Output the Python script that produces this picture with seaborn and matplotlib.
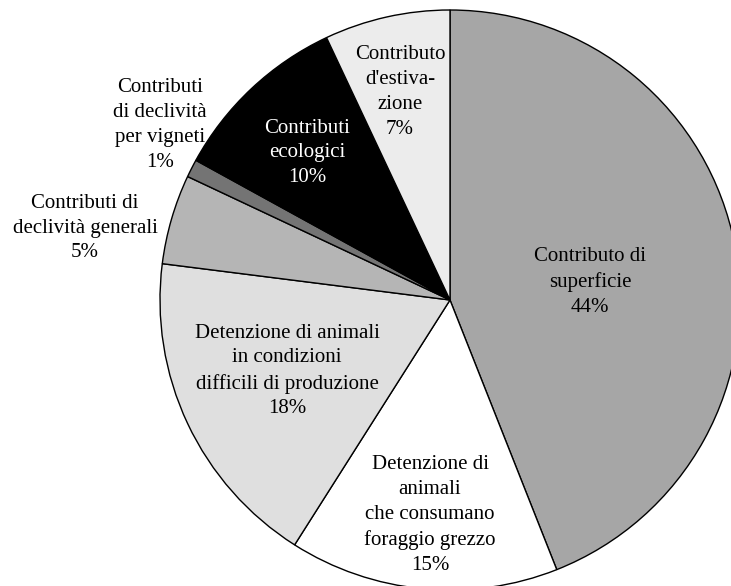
import matplotlib.pyplot as plt
import seaborn as sns

# data (clockwise from 12 o'clock)
categories = [
    "Contributo di\nsuperficie",
    "Detenzione di\nanimali\nche consumano\nforaggio grezzo",
    "Detenzione di animali\nin condizioni\ndifficili di produzione",
    "Contributi di\ndeclività generali",
    "Contributi\ndi declività\nper vigneti",
    "Contributi\necologici",
    "Contributo\nd'estiva-\nzione",
]
shares = [44, 15, 18, 5, 1, 10, 7]
slice_colors = ["#a6a6a6", "#ffffff", "#dfdfdf", "#b5b5b5", "#747474", "#000000", "#ececec"]
text_colors = ["black", "black", "black", "black", "black", "white", "black"]

# label centres in pixels of the reference (x from left, y from top)
label_px = [(590, 282), (430, 515), (287, 371), (85, 228), (160, 125), (307, 153), (400, 92)]


def main():
    sns.set_theme(style="white")
    plt.rcParams["font.family"] = ["Liberation Serif", "DejaVu Serif"]

    W, H = 731, 586
    cx, cy, radius = 450, 300, 290

    fig = plt.figure(figsize=(W / 100, H / 100), dpi=100)
    ax = fig.add_axes([0, 0, 1, 1])
    ax.pie(shares, colors=slice_colors, startangle=90, counterclock=False,
           radius=radius, center=(0, 0),
           wedgeprops={"edgecolor": "black", "linewidth": 1.0})
    ax.set_xlim(-cx, W - cx)
    ax.set_ylim(-(H - cy), cy)
    ax.set_aspect("equal")
    ax.axis("off")

    for name, share, (px, py), tc in zip(categories, shares, label_px, text_colors):
        ax.text(px - cx, cy - py, f"{name}\n{share}%", ha="center", va="center",
                fontsize=15, color=tc, linespacing=1.42)

    fig.savefig("out.png", dpi=100, facecolor="white")


if __name__ == "__main__":
    main()
